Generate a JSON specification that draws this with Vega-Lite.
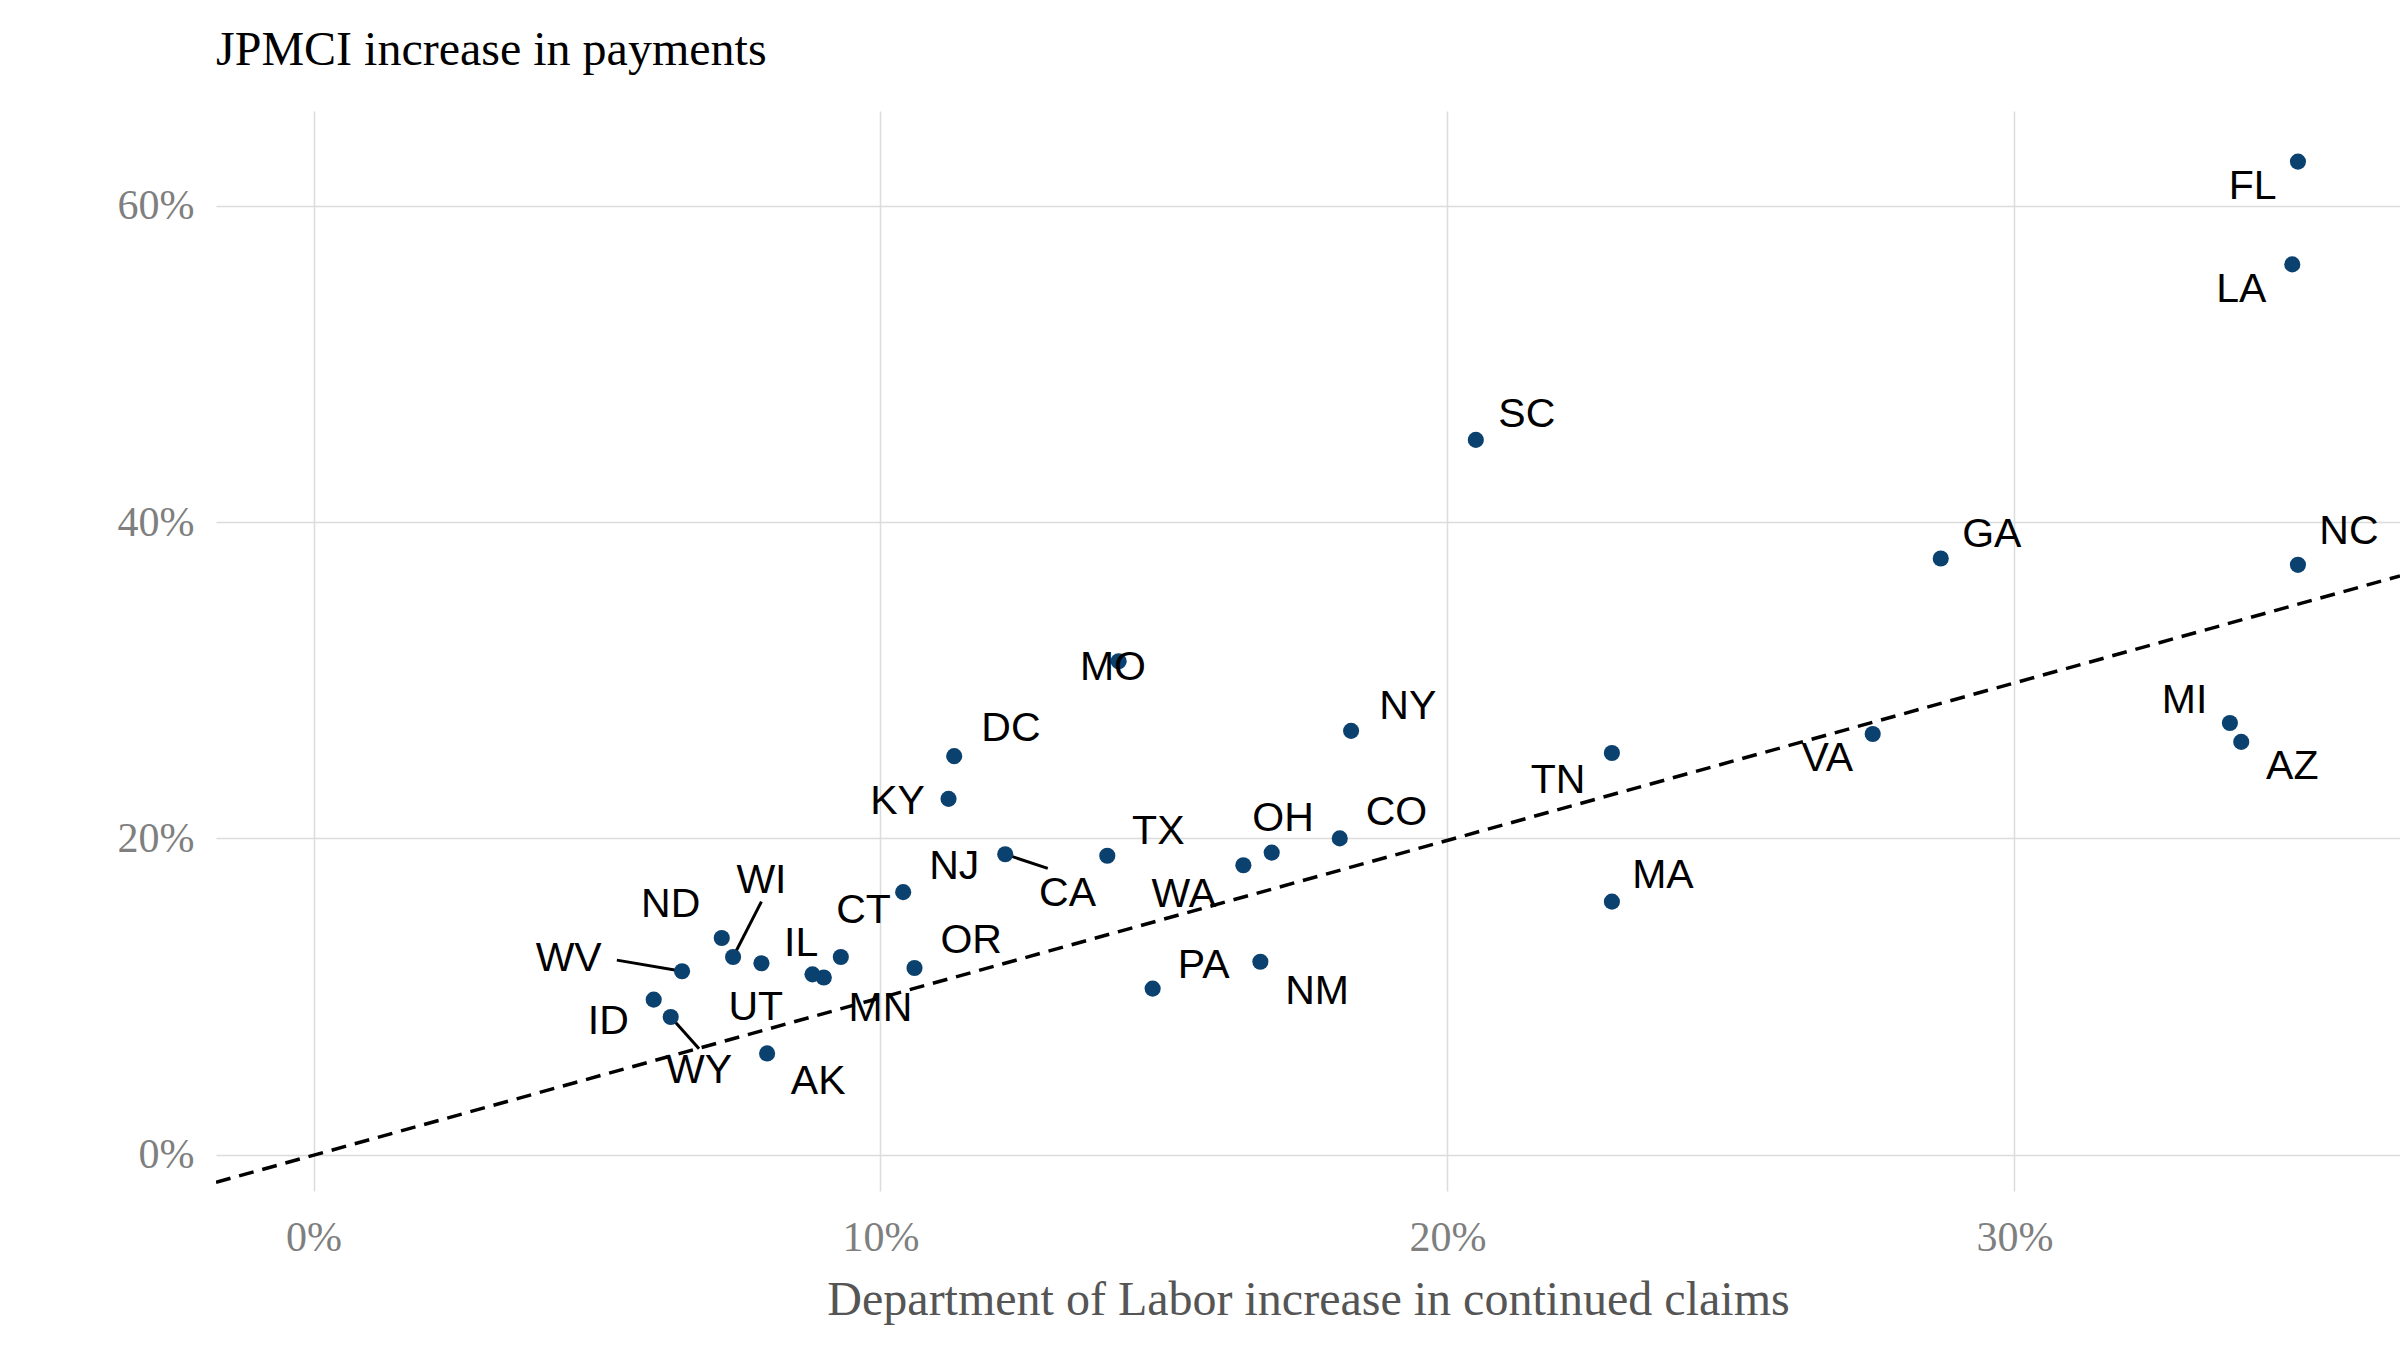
{
  "$schema": "https://vega.github.io/schema/vega-lite/v6.json",
  "autosize": "none",
  "width": 2184,
  "height": 1080,
  "padding": {"left": 216, "top": 111, "right": 0, "bottom": 160},
  "background": "white",
  "title": {"text": "JPMCI increase in payments", "anchor": "start", "frame": "group", "font": "Liberation Serif", "fontSize": 48, "fontWeight": "normal", "color": "black", "offset": 36},
  "config": {"view": {"stroke": null}},
  "datasets": {
    "states": [
      {"st": "FL", "x": 35.0, "y": 62.8, "lx": 34.2, "ly": 61.2},
      {"st": "LA", "x": 34.9, "y": 56.3, "lx": 34.0, "ly": 54.7},
      {"st": "SC", "x": 20.5, "y": 45.2, "lx": 21.4, "ly": 46.8},
      {"st": "GA", "x": 28.7, "y": 37.7, "lx": 29.6, "ly": 39.2},
      {"st": "NC", "x": 35.0, "y": 37.3, "lx": 35.9, "ly": 39.4},
      {"st": "MO", "x": 14.2, "y": 31.2, "lx": 14.1, "ly": 30.8},
      {"st": "NY", "x": 18.3, "y": 26.8, "lx": 19.3, "ly": 28.3},
      {"st": "MI", "x": 33.8, "y": 27.3, "lx": 33.0, "ly": 28.7},
      {"st": "AZ", "x": 34.0, "y": 26.1, "lx": 34.9, "ly": 24.5},
      {"st": "VA", "x": 27.5, "y": 26.6, "lx": 26.7, "ly": 25.0},
      {"st": "TN", "x": 22.9, "y": 25.4, "lx": 21.95, "ly": 23.6},
      {"st": "DC", "x": 11.3, "y": 25.2, "lx": 12.3, "ly": 26.9},
      {"st": "KY", "x": 11.2, "y": 22.5, "lx": 10.3, "ly": 22.3},
      {"st": "CO", "x": 18.1, "y": 20.0, "lx": 19.1, "ly": 21.6},
      {"st": "OH", "x": 16.9, "y": 19.1, "lx": 17.1, "ly": 21.2},
      {"st": "WA", "x": 16.4, "y": 18.3, "lx": 15.35, "ly": 16.4},
      {"st": "TX", "x": 14.0, "y": 18.9, "lx": 14.9, "ly": 20.4},
      {"st": "CA", "x": 12.2, "y": 19.0, "lx": 13.3, "ly": 16.5, "sx": 12.95, "sy": 18.1},
      {"st": "NJ", "x": 10.4, "y": 16.6, "lx": 11.3, "ly": 18.2},
      {"st": "CT", "x": 9.3, "y": 12.5, "lx": 9.7, "ly": 15.4},
      {"st": "OR", "x": 10.6, "y": 11.8, "lx": 11.6, "ly": 13.5},
      {"st": "MN", "x": 9.0, "y": 11.2, "lx": 10.0, "ly": 9.2},
      {"st": "IL", "x": 8.8, "y": 11.4, "lx": 8.6, "ly": 13.3},
      {"st": "MA", "x": 22.9, "y": 16.0, "lx": 23.8, "ly": 17.6},
      {"st": "PA", "x": 14.8, "y": 10.5, "lx": 15.7, "ly": 11.9},
      {"st": "NM", "x": 16.7, "y": 12.2, "lx": 17.7, "ly": 10.3},
      {"st": "ND", "x": 7.2, "y": 13.7, "lx": 6.3, "ly": 15.8},
      {"st": "WI", "x": 7.4, "y": 12.5, "lx": 7.9, "ly": 17.3, "sx": 7.9, "sy": 16.0},
      {"st": "UT", "x": 7.9, "y": 12.1, "lx": 7.8, "ly": 9.3},
      {"st": "WV", "x": 6.5, "y": 11.6, "lx": 4.5, "ly": 12.4, "sx": 5.35, "sy": 12.3},
      {"st": "ID", "x": 6.0, "y": 9.8, "lx": 5.2, "ly": 8.4},
      {"st": "WY", "x": 6.3, "y": 8.7, "lx": 6.8, "ly": 5.3, "sx": 6.8, "sy": 6.7},
      {"st": "AK", "x": 8.0, "y": 6.4, "lx": 8.9, "ly": 4.6}
    ],
    "fit": [{"x": -1.72, "y": -1.75}, {"x": 36.8, "y": 36.6}]
  },
  "layer": [
    {
      "data": {"name": "fit"},
      "mark": {"type": "line", "color": "black", "strokeDash": [15, 9], "strokeWidth": 3.5, "clip": true},
      "encoding": {
        "x": {"field": "x", "type": "quantitative", "scale": {"domain": [-1.72, 36.8], "nice": false, "zero": false},
          "axis": {"values": [0, 10, 20, 30], "labelExpr": "datum.value + '%'", "title": "Department of Labor increase in continued claims",
            "grid": true, "gridColor": "#dcdcdc", "gridWidth": 1.5, "domain": false, "ticks": false,
            "labelFont": "Liberation Serif", "labelFontSize": 42, "labelColor": "#7f7f7f", "labelPadding": 26,
            "titleFont": "Liberation Serif", "titleFontSize": 48, "titleFontWeight": "normal", "titleColor": "#555555", "titlePadding": 18}},
        "y": {"field": "y", "type": "quantitative", "scale": {"domain": [-2.3, 66], "nice": false, "zero": false},
          "axis": {"values": [0, 20, 40, 60], "labelExpr": "datum.value + '%'", "title": null,
            "grid": true, "gridColor": "#dcdcdc", "gridWidth": 1.5, "domain": false, "ticks": false,
            "labelFont": "Liberation Serif", "labelFontSize": 42, "labelColor": "#7f7f7f", "labelPadding": 22}}
      }
    },
    {
      "data": {"name": "states"},
      "transform": [{"filter": "isValid(datum.sx)"}],
      "mark": {"type": "rule", "color": "black", "strokeWidth": 3},
      "encoding": {
        "x": {"field": "x", "type": "quantitative"},
        "y": {"field": "y", "type": "quantitative"},
        "x2": {"field": "sx"},
        "y2": {"field": "sy"}
      }
    },
    {
      "data": {"name": "states"},
      "mark": {"type": "circle", "color": "#0b416e", "opacity": 1, "size": 260},
      "encoding": {
        "x": {"field": "x", "type": "quantitative"},
        "y": {"field": "y", "type": "quantitative"}
      }
    },
    {
      "data": {"name": "states"},
      "mark": {"type": "text", "font": "Liberation Sans", "fontSize": 41, "color": "black", "align": "center", "baseline": "middle"},
      "encoding": {
        "x": {"field": "lx", "type": "quantitative"},
        "y": {"field": "ly", "type": "quantitative"},
        "text": {"field": "st"}
      }
    }
  ]
}
